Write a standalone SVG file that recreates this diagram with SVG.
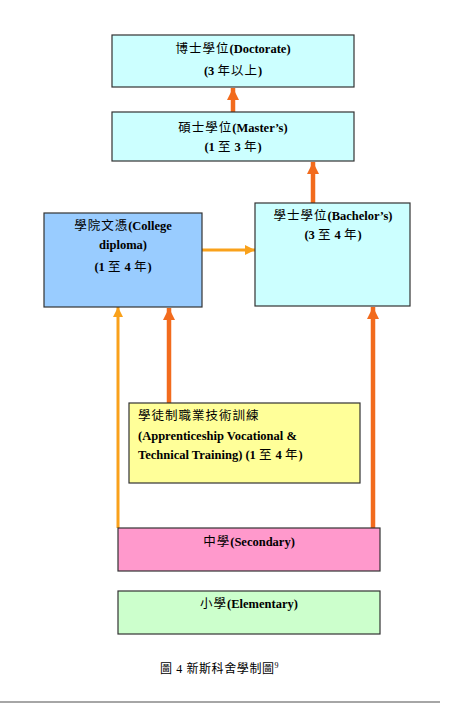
<svg xmlns="http://www.w3.org/2000/svg" width="461" height="704" viewBox="0 0 461 704">
<style>
.box{stroke:#333;stroke-width:1.2}
.t{font-family:"Liberation Serif","Noto Sans CJK TC",serif;font-size:12.5px;font-weight:bold;fill:#000}
.k{font-weight:normal;letter-spacing:1px}
.c{text-anchor:middle}
.cap{font-family:"Liberation Serif","Noto Sans CJK TC",serif;font-size:12px;fill:#000;letter-spacing:0.6px}
.red{stroke:#f26b1d;stroke-width:4.5;fill:none}
.lt{stroke:#f9a11b;stroke-width:3;fill:none}
</style>
<defs>
<marker id="ah-red" markerUnits="userSpaceOnUse" markerWidth="12" markerHeight="12" viewBox="0 0 12 12" refX="12" refY="6" orient="auto">
<path d="M0,0 L12,6 L0,12 Z" fill="#f26b1d"/>
</marker>
<marker id="ah-lt" markerUnits="userSpaceOnUse" markerWidth="10" markerHeight="10" viewBox="0 0 10 10" refX="10" refY="5" orient="auto">
<path d="M0,0 L10,5 L0,10 Z" fill="#f9a11b"/>
</marker>
</defs>
<rect width="461" height="704" fill="#fff"/>
<g id="connectors">
<line class="red" x1="233" y1="112" x2="233" y2="88" marker-end="url(#ah-red)"/>
<line class="red" x1="313" y1="203" x2="313" y2="162" marker-end="url(#ah-red)"/>
<line class="lt" x1="202" y1="250" x2="255" y2="250" marker-end="url(#ah-lt)"/>
<line class="lt" x1="118" y1="528" x2="118" y2="307" marker-end="url(#ah-lt)"/>
<line class="red" x1="169" y1="403" x2="169" y2="308" marker-end="url(#ah-red)"/>
<line class="red" x1="373" y1="528" x2="373" y2="307" marker-end="url(#ah-red)"/>
</g>
<g id="doctorate">
<rect class="box" x="112" y="35" width="242" height="52" fill="#ccffff"/>
<text class="t c" x="233" y="53"><tspan class="k">博士學位</tspan>(Doctorate)</text>
<text class="t c" x="233" y="75">(3 <tspan class="k">年以上</tspan>)</text>
</g>
<g id="masters">
<rect class="box" x="112" y="112" width="242" height="49" fill="#ccffff"/>
<text class="t c" x="233" y="132"><tspan class="k">碩士學位</tspan>(Master’s)</text>
<text class="t c" x="233" y="151">(1 <tspan class="k">至</tspan> 3 <tspan class="k">年</tspan>)</text>
</g>
<g id="college">
<rect class="box" x="44" y="213" width="158" height="94" fill="#99ccff"/>
<text class="t c" x="123" y="230"><tspan class="k">學院文憑</tspan>(College</text>
<text class="t c" x="123" y="249">diploma)</text>
<text class="t c" x="123" y="271">(1 <tspan class="k">至</tspan> 4 <tspan class="k">年</tspan>)</text>
</g>
<g id="bachelor">
<rect class="box" x="255" y="203" width="155" height="103" fill="#ccffff"/>
<text class="t c" x="333" y="220"><tspan class="k">學士學位</tspan>(Bachelor’s)</text>
<text class="t c" x="333" y="239">(3 <tspan class="k">至</tspan> 4 <tspan class="k">年</tspan>)</text>
</g>
<g id="apprentice">
<rect class="box" x="129" y="403" width="231" height="80" fill="#ffff99"/>
<text class="t" x="138" y="420"><tspan class="k">學徒制職業技術訓練</tspan></text>
<text class="t" x="138" y="440">(Apprenticeship Vocational &amp;</text>
<text class="t" x="138" y="459">Technical Training) (1 <tspan class="k">至</tspan> 4 <tspan class="k">年</tspan>)</text>
</g>
<g id="secondary">
<rect class="box" x="118" y="528" width="262" height="43" fill="#ff99cc"/>
<text class="t c" x="249" y="546"><tspan class="k">中學</tspan>(Secondary)</text>
</g>
<g id="elementary">
<rect class="box" x="118" y="591" width="262" height="43" fill="#ccffcc"/>
<text class="t c" x="249" y="608"><tspan class="k">小學</tspan>(Elementary)</text>
</g>
<g id="caption">
<text class="cap" x="160" y="673">圖 4 新斯科舍學制圖<tspan font-size="8" dy="-5">9</tspan></text>
</g>
<line x1="0" y1="702" x2="440" y2="702" stroke="#888" stroke-width="1.5"/>
</svg>
